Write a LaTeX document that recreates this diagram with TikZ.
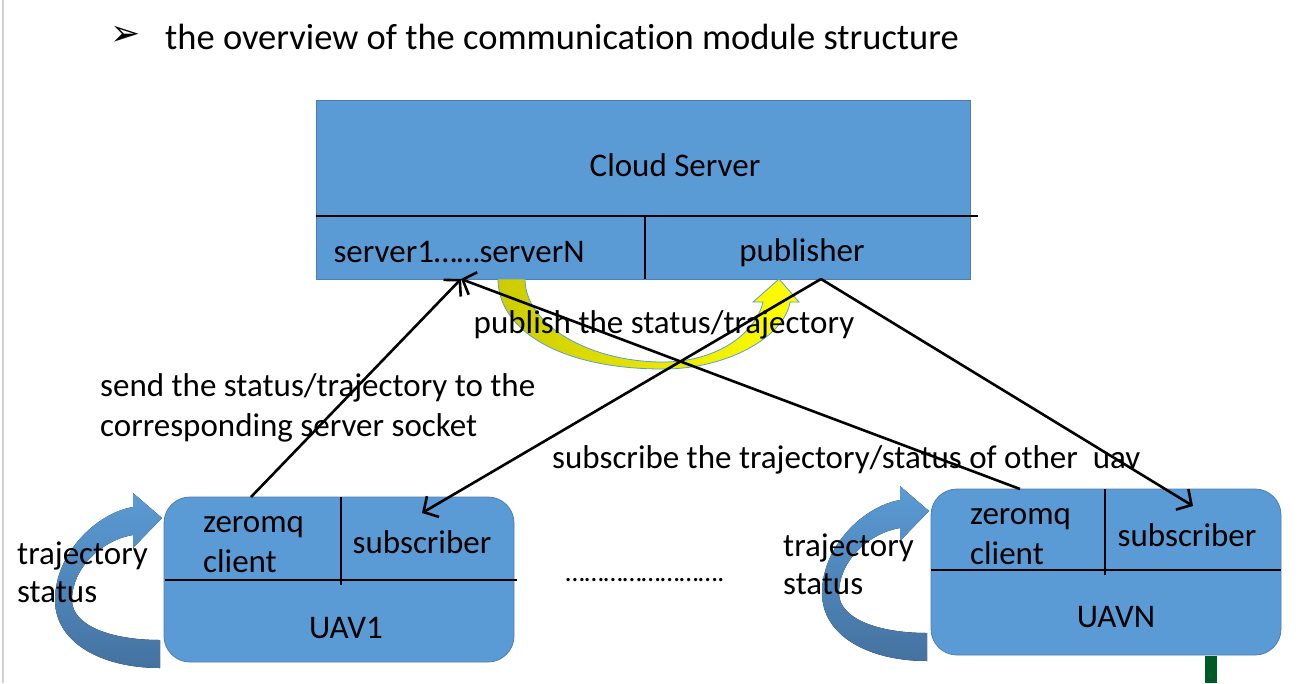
\documentclass[tikz,border=0pt]{standalone}
\usepackage{fontspec}
\setmainfont{Carlito}[Ligatures=NoCommon]
\newfontfamily\dingfont{DejaVu Sans}
\usepackage{tikz}
\usetikzlibrary{arrows.meta}

\definecolor{boxblue}{RGB}{91,155,213}
\definecolor{boxedge}{RGB}{79,125,178}
\definecolor{loopdark}{RGB}{68,114,160}
\definecolor{pubolive}{RGB}{204,204,0}
\definecolor{bargreen}{RGB}{0,90,38}

\tikzset{
  box/.style={draw=boxedge, fill=boxblue, line width=0.8pt, inner sep=0pt},
  uav/.style={box, rounded corners=26pt},
  txt/.style={inner sep=0pt, font=\fontsize{33}{40}\selectfont},
  sep/.style={line width=2.4pt},
  msg/.style={line width=2.6pt, -{Straight Barb[length=11pt,width=24pt,line width=2.6pt]}},
  loopback/.pic={
    \fill[top color=boxblue, bottom color=loopdark]
      (-2,150) .. controls (-60,150) and (-107,125) .. (-107,82)
      .. controls (-107,35) and (-65,-5) .. (-29,-11) -- (-29,-25) -- (0,0)
      -- (-29,30) -- (-29,17) .. controls (-60,22) and (-90,50) .. (-90,82)
      .. controls (-90,108) and (-50,122) .. (-2,122) -- cycle;
  }
}

\begin{document}
\begin{tikzpicture}[x=1pt,y=-1pt]
  \useasboundingbox (0,0) rectangle (1316,683);
  \draw[gray!35, line width=2pt] (3,0) -- (3,683);

  % heading
  \node[inner sep=0pt, font=\dingfont\fontsize{36}{36}\selectfont] (bullet) at (126,36) {➢};
  \node[txt, anchor=west, font=\fontsize{36.5}{40}\selectfont] (title) at (165,37) {the overview of the communication module structure};

  % cloud server
  \node[box, minimum width=654pt, minimum height=179pt] (cloud) at (643,189.5) {};
  \draw[sep] (316,216) -- (978,216);
  \draw[sep] (645,216) -- (645,279);

  % uav boxes
  \node[uav, minimum width=350pt, minimum height=165pt] (uav1) at (339,579.5) {};
  \draw[sep] (165,580) -- (517,580);
  \draw[sep] (341,497) -- (341,585);

  \node[uav, minimum width=350pt, minimum height=166pt] (uavn) at (1106,572) {};
  \draw[sep] (931,570) -- (1281,570);
  \draw[sep] (1105,489) -- (1105,575);
  \fill[bargreen] (1205,655.5) rectangle (1217,683);

  % loop arrows beside the uavs
  \pic at (162,518) {loopback};
  \pic at (929,511) {loopback};

  % publish arrow
  \shade[left color=pubolive, right color=yellow, draw=boxblue, line width=0.8pt]
    (498,279) .. controls (498,330) and (560,369) .. (663,369)
    .. controls (730,369) and (785,335) .. (790,302) -- (799,302) -- (779,279)
    -- (753,302) -- (763,302) .. controls (755,335) and (715,362) .. (663,362)
    .. controls (590,362) and (525,325) .. (525,279) -- cycle;

  % texts
  \node[txt] (cloudtxt) at (675,165) {Cloud Server};
  \node[txt] (servers) at (459,252) {server1……serverN};
  \node[txt] (pub) at (802,253) {publisher};
  \node[txt, anchor=west, align=left] (client1) at (203,545) {zeromq\\client};
  \node[txt] (sub1) at (422,542) {subscriber};
  \node[txt] (uav1txt) at (346,628) {UAV1};
  \node[txt, anchor=west, align=left] (clientn) at (970,537) {zeromq\\client};
  \node[txt] (subn) at (1187,535) {subscriber};
  \node[txt] (uavntxt) at (1116,617) {UAVN};
  \node[txt, anchor=west, align=left, font=\fontsize{33}{38}\selectfont] (loop1) at (17,572) {trajectory\\status};
  \node[txt, anchor=west, align=left, font=\fontsize{33}{38}\selectfont] (loopn) at (783,564) {trajectory\\status};
  \node[txt] (pubtxt) at (664,325) {publish the status/trajectory};
  \node[txt, anchor=west, align=left] (sendtxt) at (100,408) {send the status/trajectory to the\\corresponding server socket};
  \node[txt, anchor=west] (subtxt) at (552,460) {subscribe the trajectory/status of other\ \ uav};
  \node[txt, font=\fontsize{27.5}{30}\selectfont] (dots) at (645,580) {…………………….};

  % connectors
  \coordinate (srvin) at (461,279);
  \coordinate (pubout) at (821,279);
  \coordinate (c1out) at (251,497);
  \coordinate (cnout) at (1020,489);
  \coordinate (s1in) at (422,513);
  \coordinate (snin) at (1193,506);
  \draw[msg] (c1out) -- (srvin);
  \draw[msg] (cnout) -- (srvin);
  \draw[msg] (pubout) -- (s1in);
  \draw[msg] (pubout) -- (snin);
\end{tikzpicture}
\end{document}
